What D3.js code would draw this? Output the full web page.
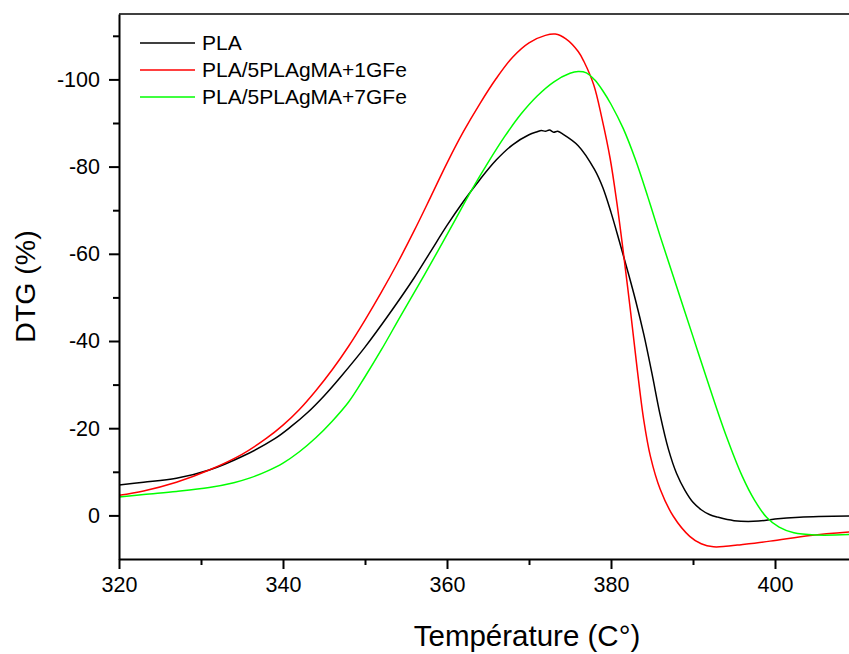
<!DOCTYPE html>
<html>
<head>
<meta charset="utf-8">
<script src="https://cdn.jsdelivr.net/npm/d3@7"></script>
<style>
  body { margin: 0; background: #fff; }
  svg { display: block; font-family: "Liberation Sans", Arial, sans-serif; }
</style>
</head>
<body>
<svg id="chart" width="849" height="654"></svg>
<script>
// ---- data ----
const seriesNames = ["PLA", "PLA/5PLAgMA+1GFe", "PLA/5PLAgMA+7GFe"];
const seriesColors = ["#000000", "#ff0000", "#00ff00"];

const plaT = [320, 323, 327, 331, 335, 339, 341, 343, 345, 347, 350, 353, 356, 358, 360, 362, 364, 366, 368, 370, 371, 371.5, 372, 372.5, 373, 373.5, 374, 376, 378, 379, 380, 381, 382, 383, 384, 385, 386, 387, 388, 389, 390, 391, 392, 393, 395, 398, 400, 403, 409.1];
const plaV = [-7.0, -7.6, -8.5, -10.4, -13.5, -17.6, -20.4, -23.6, -27.4, -31.7, -38.6, -46.3, -54.5, -60.5, -66.5, -72.0, -77.0, -81.5, -85.0, -87.3, -88.0, -88.3, -88.1, -88.4, -87.9, -88.1, -87.6, -84.8, -79.3, -75.2, -69.5, -63.0, -56.3, -49.3, -41.5, -32.5, -23.0, -15.2, -9.6, -5.8, -3.0, -1.3, -0.2, 0.4, 1.2, 1.3, 0.8, 0.4, 0.15];

const gfe1T = [320, 323, 327, 331, 335, 338, 340, 342, 344, 346, 348, 350, 352, 354, 356, 358, 360, 362, 364, 366, 368, 370, 372, 373.2, 374.5, 376, 376.7, 377.9, 378.9, 379.9, 380.7, 381.5, 382.4, 383.2, 384, 384.8, 386, 387.6, 389.6, 391, 392.5, 394, 395.4, 399.4, 404.3, 409.1];
const gfe1V = [-4.6, -5.6, -7.6, -10.4, -14.0, -17.7, -20.7, -24.3, -28.6, -33.4, -38.8, -44.8, -51.2, -58.0, -65.3, -73.0, -80.8, -88.0, -94.4, -100.2, -105.1, -108.4, -110.1, -110.4, -109.3, -106.4, -104.1, -98.7, -91.0, -81.8, -71.9, -60.4, -46.5, -33.5, -21.8, -13.6, -6.0, 0.2, 4.8, 6.5, 7.2, 7.1, 6.8, 5.9, 4.6, 3.8];

const gfe7T = [320, 323, 327, 331, 334, 336, 338, 340, 342, 344, 346, 348, 350, 352, 354.3, 356.7, 359, 361, 363, 365, 367, 369, 371, 373, 375, 376, 377, 378, 379, 380, 381.5, 383, 384.5, 386, 388, 390, 392, 394, 396, 397.5, 399, 400.5, 402.3, 405, 409.1];
const gfe7V = [-4.2, -4.8, -5.5, -6.4, -7.5, -8.6, -10.1, -12.0, -14.6, -17.8, -21.6, -26.0, -31.8, -38.0, -45.6, -53.4, -61.0, -67.8, -74.6, -80.9, -86.8, -92.0, -96.2, -99.4, -101.4, -101.8, -101.5, -99.9, -97.4, -94.3, -88.7, -81.5, -73.0, -64.0, -52.5, -41.0, -29.5, -18.5, -9.0, -3.5, 0.5, 2.7, 4.0, 4.5, 4.4];

const xMajorTicks = [320, 340, 360, 380, 400];
const xMinorTicks = [330, 350, 370, 390];
const yMajorTicks = [-100, -80, -60, -40, -20, 0];
const yMinorTicks = [-110, -90, -70, -50, -30, -10];

const xTitle = "Température (C°)";
const yTitle = "DTG (%)";

// ---- layout ----
const svg = d3.select("#chart");
const mLeft = 119, mTop = 14, mBottom = 559, mRightFull = 939;

const x = d3.scaleLinear().domain([320, 420]).range([mLeft, mRightFull]);
const y = d3.scaleLinear().domain([10, -115]).range([mBottom, mTop]);

svg.append("defs").append("clipPath").attr("id", "clip")
  .append("rect").attr("x", mLeft).attr("y", mTop).attr("width", mRightFull - mLeft).attr("height", mBottom - mTop);

const series = [
  {name: seriesNames[0], color: seriesColors[0], pts: plaT.map((t, i) => [t, plaV[i]])},
  {name: seriesNames[1], color: seriesColors[1], pts: gfe1T.map((t, i) => [t, gfe1V[i]])},
  {name: seriesNames[2], color: seriesColors[2], pts: gfe7T.map((t, i) => [t, gfe7V[i]])}
];

const line = d3.line().x(d => x(d[0])).y(d => y(d[1])).curve(d3.curveCatmullRom.alpha(0.5));

const g = svg.append("g").attr("clip-path", "url(#clip)");
series.forEach(s => {
  g.append("path").datum(s.pts)
    .attr("d", line)
    .attr("fill", "none")
    .attr("stroke", s.color)
    .attr("stroke-width", 1.5);
});

// frame top line
svg.append("line").attr("x1", mLeft).attr("x2", mRightFull).attr("y1", mTop).attr("y2", mTop)
  .attr("stroke", "#000").attr("stroke-width", 1.5);

// axes
function styleAxis(sel) {
  sel.selectAll("path").attr("stroke", "#000").attr("stroke-width", 2);
  sel.selectAll("line").attr("stroke", "#000").attr("stroke-width", 2);
  sel.selectAll("text").attr("font-size", 21.5).attr("fill", "#000")
    .attr("font-family", "'Liberation Sans', Arial, sans-serif");
}

const xAxis = svg.append("g").attr("transform", `translate(0,${mBottom})`)
  .call(d3.axisBottom(x).tickValues(xMajorTicks).tickSize(10).tickSizeOuter(0).tickPadding(8).tickFormat(d3.format("d")));
styleAxis(xAxis);
const xMinor = svg.append("g").attr("transform", `translate(0,${mBottom})`)
  .call(d3.axisBottom(x).tickValues(xMinorTicks).tickSize(6).tickSizeOuter(0).tickFormat(""));
styleAxis(xMinor);
xMinor.select("path").remove();

const yAxis = svg.append("g").attr("transform", `translate(${mLeft},0)`)
  .call(d3.axisLeft(y).tickValues(yMajorTicks).tickSize(10).tickSizeOuter(0).tickPadding(9).tickFormat(d => d3.format("d")(d).replace("−", "-")));
styleAxis(yAxis);
const yMinor = svg.append("g").attr("transform", `translate(${mLeft},0)`)
  .call(d3.axisLeft(y).tickValues(yMinorTicks).tickSize(6).tickSizeOuter(0).tickFormat(""));
styleAxis(yMinor);
yMinor.select("path").remove();

// titles
svg.append("text").attr("x", (mLeft + mRightFull) / 2 - 2).attr("y", 646)
  .attr("text-anchor", "middle").attr("font-size", 29.5).text(xTitle);
svg.append("text").attr("transform", `translate(35,${(mTop + mBottom) / 2}) rotate(-90)`)
  .attr("text-anchor", "middle").attr("font-size", 28.5).text(yTitle);

// legend
const legend = svg.append("g");
series.forEach((s, i) => {
  const ly = 43 + i * 27;
  legend.append("line").attr("x1", 140).attr("x2", 195).attr("y1", ly).attr("y2", ly)
    .attr("stroke", s.color).attr("stroke-width", 1.5);
  legend.append("text").attr("x", 202).attr("y", ly + 7).attr("font-size", 21).text(s.name);
});
</script>
</body>
</html>
